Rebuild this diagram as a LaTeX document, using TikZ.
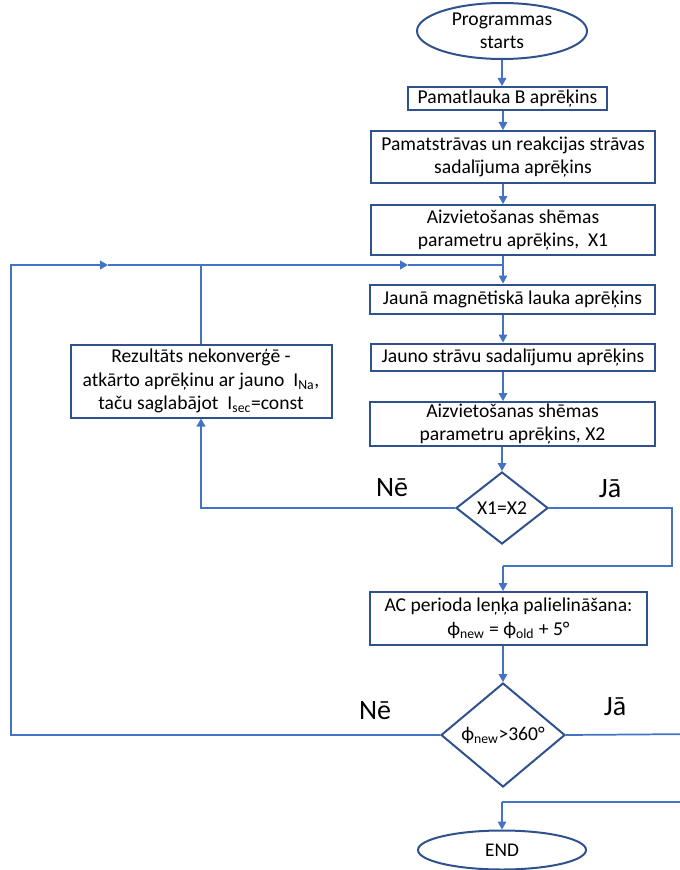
\documentclass[tikz,border=0pt]{standalone}
\usepackage{fontspec}
\setmainfont{Carlito}
\usetikzlibrary{shapes.geometric,arrows.meta}
\definecolor{lineblue}{HTML}{4472C4}
\definecolor{boxblue}{HTML}{2F528F}
\newcommand{\phisym}{\symbol{"03D5}}
\begin{document}
\begin{tikzpicture}[x=0.75pt,y=-0.75pt,
 box/.style={draw=boxblue,line width=1.5pt,rectangle,inner sep=0pt,align=center,
   font=\fontsize{14.7}{17.8}\selectfont},
 term/.style={draw=boxblue,line width=1.5pt,ellipse,inner sep=0pt},
 dec/.style={draw=boxblue,line width=1.5pt,diamond,inner sep=0pt,align=center,
   font=\fontsize{14.7}{17}\selectfont},
 tip/.style={-{Triangle[length=6pt,width=6.5pt]}},
 arr/.style={draw=lineblue,line width=0.8pt,tip},
 branch/.style={draw=lineblue,line width=1.3pt},
 lbl/.style={font=\fontsize{21}{24}\selectfont,inner sep=0pt}
]
\path[use as bounding box] (0,0) rectangle (680,870);
\begin{scope}
\clip (0,0) rectangle (680,870);
% axis helper
\coordinate (ax) at (503,0);
% nodes
\node[term,minimum width=170*0.75pt,minimum height=56*0.75pt,
  label={[font=\fontsize{14.7}{17.2}\selectfont,align=center]center:Programmas\\starts}] (start) at (502,31) {};
\node[box,minimum width=199*0.75pt,minimum height=23*0.75pt] (b1) at (507.5,98.5) {Pamatlauka B aprēķins};
\node[box,minimum width=284*0.75pt,minimum height=52*0.75pt] (b2) at (513,157) {Pamatstrāvas un reakcijas strāvas\\sadalījuma aprēķins};
\node[box,minimum width=284*0.75pt,minimum height=50*0.75pt] (b3) at (513,230) {Aizvietošanas shēmas\\parametru aprēķins,\ \ X1};
\node[box,minimum width=285*0.75pt,minimum height=29*0.75pt] (b4) at (512.5,299) {Jaunā magnētiskā lauka aprēķins};
\node[box,minimum width=284*0.75pt,minimum height=27*0.75pt] (b5) at (513,357) {Jauno strāvu sadalījumu aprēķins};
\node[box,minimum width=285*0.75pt,minimum height=44*0.75pt,font=\fontsize{14.7}{16.8}\selectfont] (b6) at (512.5,424) {Aizvietošanas shēmas\\parametru aprēķins, X2};
\node[dec,minimum width=92*0.75pt,minimum height=72*0.75pt] (d1) at (502,508) {X1=X2};
\node[box,minimum width=261*0.75pt,minimum height=73*0.75pt] (r) at (201,381) {Rezultāts nekonverģē -\\atkārto aprēķinu ar jauno\ \ I\textsubscript{Na},\\taču saglabājot\ \ I\textsubscript{sec}=const};
\node[box,minimum width=277*0.75pt,minimum height=53*0.75pt] (b7) at (508.5,618.5) {AC perioda leņķa palielināšana:\\\phisym\textsubscript{new} = \phisym\textsubscript{old} + 5°};
\node[dec,minimum width=124*0.75pt,minimum height=104*0.75pt] (d2) at (503,735) {\phisym\textsubscript{new}>360°};
\node[term,minimum width=168*0.75pt,minimum height=39*0.75pt,
  label={[font=\fontsize{14.5}{16}\selectfont]center:END}] (end) at (502,850) {};
% labels
\node[lbl] (n1) at (392,488) {Nē};
\node[lbl] (y1) at (610,489) {Jā};
\node[lbl] (n2) at (375,711) {Nē};
\node[lbl] (y2) at (615,707) {Jā};
% helper coordinates
\coordinate (m) at (503,265);
\coordinate (cA) at (108,265);
\coordinate (cB) at (408,265);
\coordinate (cL) at (11,265);
\coordinate (cR1) at (672,566);
\coordinate (j1) at (503,566);
\coordinate (cR2) at (700,734);
\coordinate (j2) at (502,802);
% connectors
\draw[arr] (start.south) -- (start.south |- b1.north);
\draw[arr] (b1.south -| ax) -- (b2.north -| ax);
\draw[arr] (b2.south -| ax) -- (b3.north -| ax);
\draw[draw=lineblue,line width=0.8pt] (b3.south -| ax) -- (m);
\draw[arr] (m) -- (b4.north -| ax);
\draw[arr] (b4.south -| ax) -- (b5.north -| ax);
\draw[arr] (b5.south -| ax) -- (b6.north -| ax);
\draw[arr] (b6.south -| d1.north) -- (d1.north);
\draw[branch,tip] (d1.west) -| (r.south);
\draw[branch,tip] (r.north) |- (cB);
\draw[branch] (cB) -- (m);
\draw[branch,tip] (d2.west) -| (cL) -- (cA);
\draw[branch] (cA) -- (r.north |- m);
\draw[branch] (d1.east) -| (cR1) -- (j1);
\draw[arr] (j1) -- (b7.north -| j1);
\draw[arr] (b7.south -| d2.north) -- (d2.north);
\draw[branch] (d2.east) -- (cR2) |- (j2);
\draw[arr] (j2) -- (end.north);
\end{scope}
\end{tikzpicture}
\end{document}
